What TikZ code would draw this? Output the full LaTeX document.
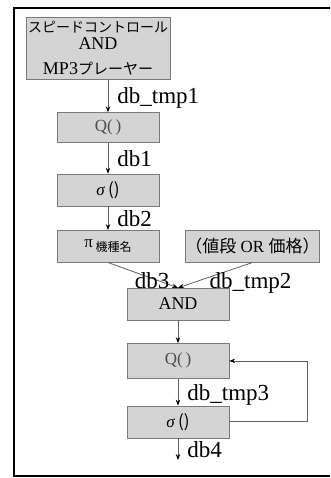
\documentclass[tikz,border=0pt]{standalone}
\usepackage{fontspec}
\setmainfont{Liberation Serif}
\newfontfamily\jafont{Noto Sans CJK JP}
\usetikzlibrary{positioning,arrows.meta}

\definecolor{boxfill}{HTML}{D4D4D4}
\definecolor{boxline}{HTML}{7A7A7A}
\definecolor{flowline}{HTML}{606060}
\newcommand{\dbfont}{\fontsize{23}{23}\selectfont}
\newcommand{\boxfont}{\fontsize{17}{17}\selectfont}

\begin{document}
\begin{tikzpicture}[x=1pt,y=-1pt,
  >={Stealth[length=6pt,width=4.5pt,color=black]},
  opbox/.style={draw=boxline,fill=boxfill,minimum width=102pt,minimum height=32pt,inner sep=0pt,font=\boxfont},
  flow/.style={->,draw=flowline,line width=0.8pt},
  dblabel/.style={font=\dbfont,anchor=base west,inner sep=0pt,xshift=9pt,yshift=-8pt}]

\useasboundingbox (0,0) rectangle (330,478);
\draw[line width=1.2pt] (330,8) -- (14,8) -- (14,476) -- (330,476);

\node[opbox,minimum width=144pt,minimum height=62pt,align=center,font=\fontsize{18}{21}\selectfont](spd) at (98,48.5)
  {{\jafont\fontsize{14}{21}\selectfont スピードコントロール}\\[-4pt]
   AND\\[4pt]
   MP3{\jafont\fontsize{15}{21}\selectfont プレーヤー}};
\node[opbox,minimum height=30pt](q1) at (108,127.5){\color{black!70}Q(\,)};
\node[opbox](sg1)[below=31pt of q1]{\textit{σ}\,{\jafont ()}};
\node[opbox](pi)[below=24pt of sg1]{π\,\raisebox{-4pt}{\jafont\fontsize{12}{12}\selectfont 機種名}};
\node[opbox,minimum width=133pt](price)[right=26pt of pi]{{\jafont （値段} OR {\jafont 価格）}};
\node[opbox](and) at (178,304){\fontsize{18}{18}\selectfont AND};
\node[opbox,minimum height=35pt](q2)[below=23pt of and]{\color{black!70}Q(\,)};
\node[opbox](sg2)[below=27pt of q2]{\textit{σ}\,{\jafont ()}};
\coordinate[below=22pt of sg2](out);

\draw[flow](q1.north |- spd.south) -- node[dblabel]{db\_tmp1} (q1.north);
\draw[flow](q1) -- node[dblabel]{db1} (sg1);
\draw[flow](sg1) -- node[dblabel]{db2} (pi);
\draw[flow](pi.south) -- node[dblabel,anchor=base,xshift=0pt,yshift=-5.5pt]{db3} (and.north);
\draw[flow](price.south) -- node[dblabel,xshift=-15pt,yshift=-5.5pt]{db\_tmp2} (and.north);
\draw[flow](and) -- (q2);
\draw[flow](q2) -- node[dblabel]{db\_tmp3} (sg2);
\draw[flow](sg2) -- node[dblabel]{db4} (out);
\draw[flow](sg2.east) -- ++(78,0) |- (q2.east);

\end{tikzpicture}
\end{document}
